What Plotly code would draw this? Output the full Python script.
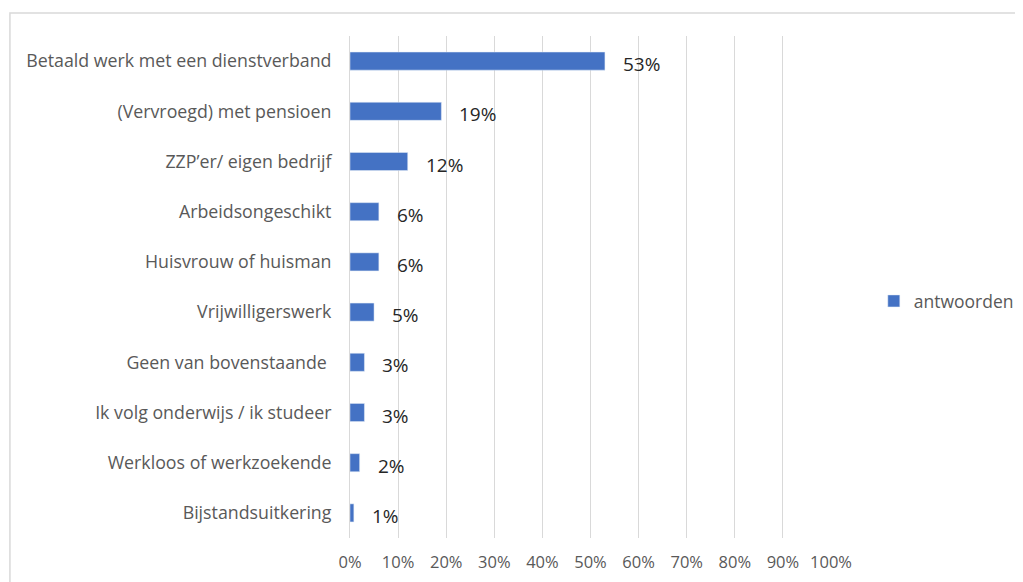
import plotly.graph_objects as go

# Data
categories = [
    "Betaald werk met een dienstverband",
    "(Vervroegd) met pensioen",
    "ZZP\u2019er/ eigen bedrijf",
    "Arbeidsongeschikt",
    "Huisvrouw of huisman",
    "Vrijwilligerswerk",
    "Geen van bovenstaande ",
    "Ik volg onderwijs / ik studeer",
    "Werkloos of werkzoekende",
    "Bijstandsuitkering",
]
values = [53, 19, 12, 6, 6, 5, 3, 3, 2, 0.8]
labels = ["53%", "19%", "12%", "6%", "6%", "5%", "3%", "3%", "2%", "1%"]
tick_vals = [0, 10, 20, 30, 40, 50, 60, 70, 80, 90, 100]
tick_text = ["0%", "10%", "20%", "30%", "40%", "50%", "60%", "70%", "80%", "90%", "100%"]

fig = go.Figure()

fig.add_trace(go.Bar(
    x=values, y=categories, orientation="h",
    marker=dict(color="#4472C4"),
    name="antwoorden", showlegend=True,
))

# Data labels, offset from the bar ends
for v, c, t in zip(values, categories, labels):
    fig.add_annotation(x=v, y=c, text=t, showarrow=False,
                       xanchor="left", xshift=16, yshift=-3,
                       font=dict(family="Open Sans", size=19, color="#262626"))

# Outer chart border (only top and left visible)
fig.add_shape(type="rect", xref="paper", yref="paper",
              x0=-0.707, x1=1.5, y0=-0.2, y1=1.046,
              line=dict(color="#d9d9d9", width=1.5))

fig.update_layout(
    width=1023, height=582,
    margin=dict(l=342, r=200, t=28, b=52),
    paper_bgcolor="white", plot_bgcolor="white",
    font=dict(family="Open Sans", size=16, color="#595959"),
    bargap=0.64,
    xaxis=dict(range=[0, 100], tickvals=tick_vals, ticktext=tick_text,
               showgrid=True, gridcolor="#d9d9d9", gridwidth=1,
               zeroline=False, showline=False, ticks="", automargin=False,
               ticklabelstandoff=12,
               tickfont=dict(size=16.5, color="#595959"), fixedrange=True),
    yaxis=dict(autorange="reversed", showline=True, linecolor="#d9d9d9",
               ticks="", ticklabelstandoff=14, automargin=False,
               tickfont=dict(size=17.8, color="#595959")),
    legend=dict(x=1.089, y=0.472, xanchor="left", yanchor="middle",
                font=dict(size=17.5, color="#595959"), itemwidth=30),
)

fig.write_html("out.html")
